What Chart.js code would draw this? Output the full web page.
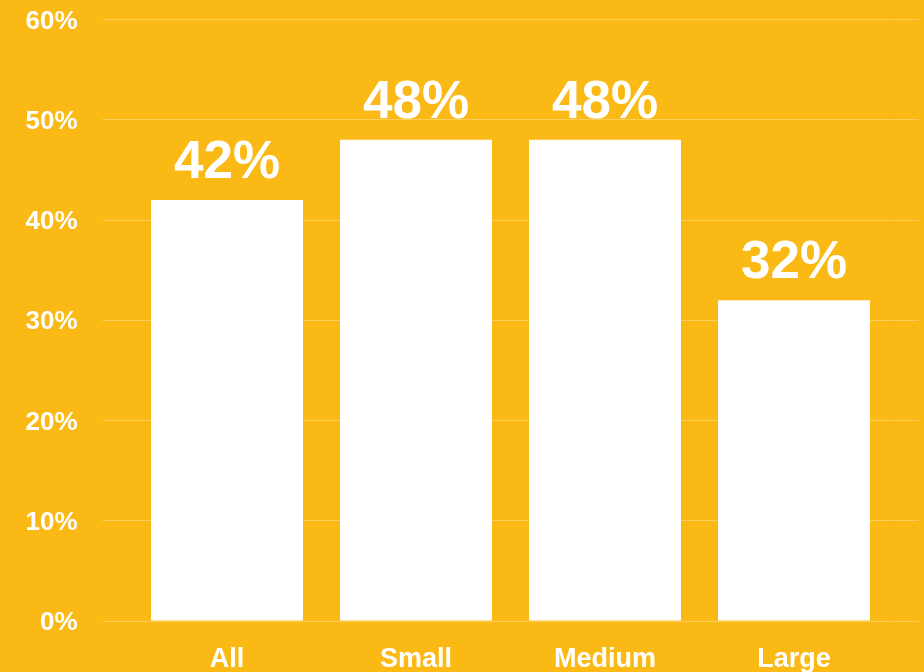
<!DOCTYPE html>
<html>
<head>
<meta charset="utf-8">
<script src="https://cdn.jsdelivr.net/npm/chart.js@4/dist/chart.umd.min.js"></script>
<style>
  html, body { margin: 0; padding: 0; background: #FBB916; }
  #wrap { width: 924px; height: 672px; position: relative; }
</style>
</head>
<body>
<div id="wrap"><canvas id="c"></canvas></div>
<script>
// Share of companies by size
const categories = ['All', 'Small', 'Medium', 'Large'];
const shares = [42, 48, 48, 32];
const yTicks = [0, 10, 20, 30, 40, 50, 60];

const FONT = '"Liberation Sans", Arial, Helvetica, sans-serif';
const GRID = 'rgba(255,255,255,0.3)';

// Writes each bar's value above it
const valueLabels = {
  id: 'valueLabels',
  afterDatasetsDraw(chart) {
    const ctx = chart.ctx;
    const meta = chart.getDatasetMeta(0);
    ctx.save();
    ctx.fillStyle = '#ffffff';
    ctx.font = 'bold 53px ' + FONT;
    ctx.textAlign = 'center';
    ctx.textBaseline = 'alphabetic';
    meta.data.forEach((bar, i) => {
      ctx.fillText(shares[i] + '%', bar.x, bar.y - 22);
    });
    ctx.restore();
  }
};

new Chart(document.getElementById('c'), {
  type: 'bar',
  data: {
    labels: categories,
    datasets: [{
      data: shares,
      backgroundColor: '#ffffff',
      borderWidth: 0,
      categoryPercentage: 1,
      barPercentage: 0.804
    }]
  },
  options: {
    responsive: true,
    maintainAspectRatio: false,
    animation: false,
    layout: { padding: { top: 19.5, right: 5.5, bottom: 0, left: 0 } },
    plugins: { legend: { display: false }, tooltip: { enabled: false } },
    scales: {
      x: {
        grid: { display: false },
        border: { display: false },
        ticks: {
          color: '#ffffff',
          font: { family: FONT, size: 27, weight: 'bold' },
          padding: 14
        },
        afterFit(scale) { scale.height = 51; }
      },
      y: {
        position: 'left',
        min: 0, max: 60,
        afterBuildTicks(scale) { scale.ticks = yTicks.map(v => ({ value: v })); },
        grid: { color: GRID, lineWidth: 1, tickLength: 30, drawTicks: true },
        border: { display: false },
        ticks: {
          color: '#ffffff',
          font: { family: FONT, size: 26, weight: 'bold' },
          padding: 25,
          labelOffset: 2,
          callback: v => v + '%'
        },
        afterFit(scale) {
          scale.width = 132.5;
          scale.paddingTop = 0;
          scale.paddingBottom = 0;
        }
      },
      y2: {
        position: 'right',
        display: true,
        min: 0, max: 60,
        afterBuildTicks(scale) { scale.ticks = yTicks.map(v => ({ value: v })); },
        grid: { color: GRID, lineWidth: 1, tickLength: 30, drawOnChartArea: false, drawTicks: true },
        border: { display: false },
        ticks: { display: false },
        afterFit(scale) {
          scale.paddingTop = 0;
          scale.paddingBottom = 0;
        }
      }
    }
  },
  plugins: [valueLabels]
});
</script>
</body>
</html>
